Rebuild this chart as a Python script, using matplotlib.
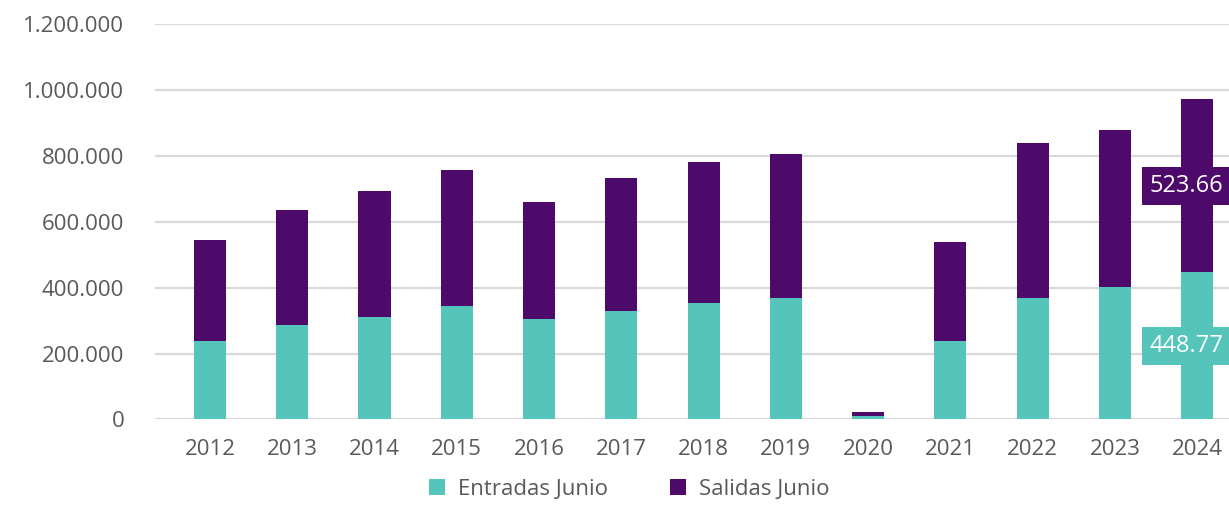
import numpy as np
import matplotlib.pyplot as plt
import matplotlib.transforms as mtransforms
from matplotlib.ticker import FuncFormatter

# Datos
years = ['2012', '2013', '2014', '2015', '2016', '2017', '2018',
         '2019', '2020', '2021', '2022', '2023', '2024']
entradas = [239000, 287000, 312000, 345000, 305000, 330000, 354000,
            369000, 11500, 239000, 369000, 403000, 448770]
salidas = [307000, 350000, 383000, 413000, 356000, 404000, 429000,
           438000, 10500, 301000, 471000, 477000, 523660]
# etiquetas tal como se ven (cortadas en el borde)
label_ent = '448.77'
label_sal = '523.66'

teal = '#55C4BA'
purple = '#4E0A6A'
grey = '#595959'

plt.rcParams['font.family'] = ['Open Sans', 'DejaVu Sans']

fmt = lambda v: f'{v:,.0f}'.replace(',', '.')

fig = plt.figure(figsize=(12.29, 5.07), dpi=100)
ax = fig.add_axes([0.126, 0.1726, 0.893, 0.7791])

x = np.arange(len(years))
w = 0.39
ax.bar(x, entradas, w, color=teal, label='Entradas Junio', zorder=3)
ax.bar(x, salidas, w, bottom=entradas, color=purple, label='Salidas Junio', zorder=3)

# etiquetas del ultimo año, pegadas al borde derecho
i = len(years) - 1
trans = mtransforms.blended_transform_factory(fig.transFigure, ax.transData)
ax.text(1223 / 1229, entradas[i] / 2, label_ent, transform=trans, ha='right', va='center',
        color='white', fontsize=17, zorder=4, clip_on=False,
        bbox=dict(boxstyle='square,pad=0.3', fc=teal, ec='none'))
ax.text(1223 / 1229, entradas[i] + salidas[i] / 2, label_sal, transform=trans, ha='right',
        va='center', color='white', fontsize=17, zorder=4, clip_on=False,
        bbox=dict(boxstyle='square,pad=0.3', fc=purple, ec='none'))

ax.set_xlim(-0.67, len(years) - 1 + 0.67)
ax.set_ylim(0, 1200000)
ax.set_yticks(np.arange(0, 1200001, 200000))
ax.yaxis.set_major_formatter(FuncFormatter(lambda v, p: fmt(v)))
ax.set_xticks(x)
ax.set_xticklabels(years)
ax.tick_params(axis='both', length=0, labelsize=16, labelcolor=grey)
ax.tick_params(axis='y', pad=22)
ax.tick_params(axis='x', pad=14)
ax.grid(axis='y', color='#D9D9D9', lw=1.6, zorder=0)
for s in ax.spines.values():
    s.set_visible(False)

fig.legend(loc='lower center', bbox_to_anchor=(0.512, -0.025), ncol=2, frameon=False,
           fontsize=16, labelcolor=grey, handlelength=0.7, handleheight=0.7,
           columnspacing=2.8, handletextpad=0.6)

fig.savefig('out.png', dpi=100)
